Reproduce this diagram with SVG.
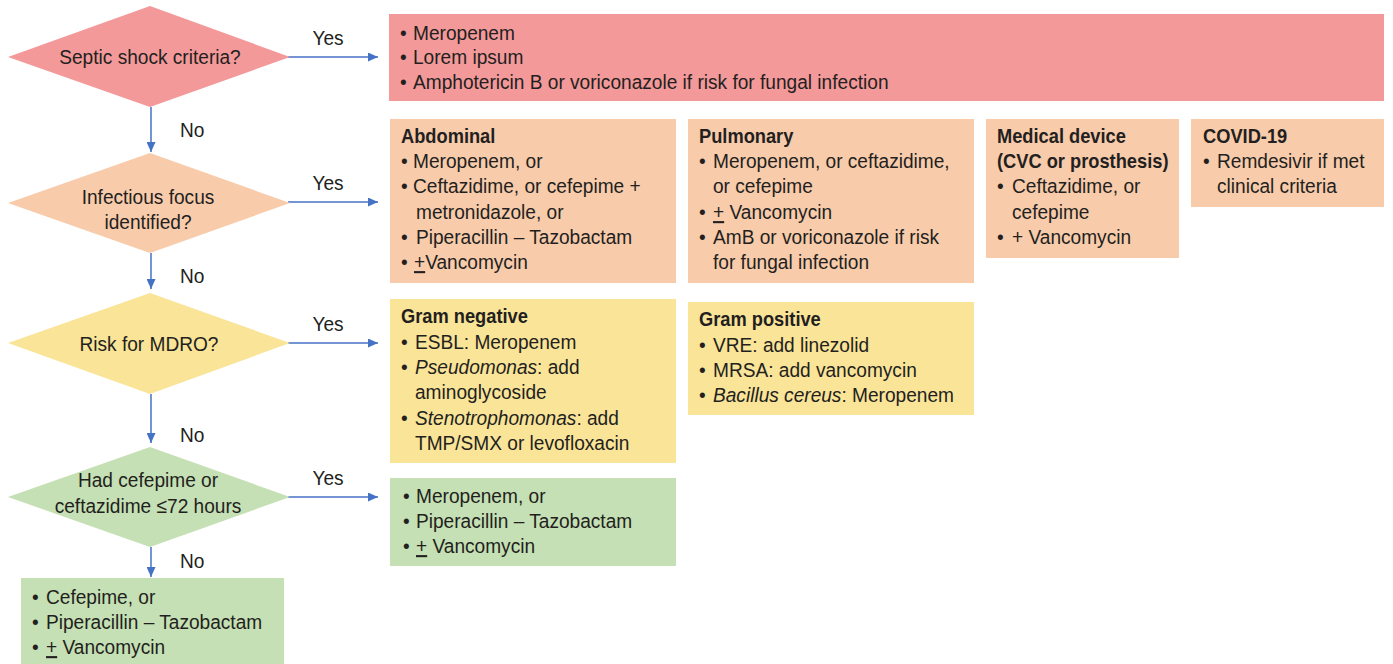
<svg xmlns="http://www.w3.org/2000/svg" width="1393" height="664" viewBox="0 0 1393 664">
<style>
text{font-family:"Liberation Sans",Arial,sans-serif;font-size:21px;fill:#231F20}
.b{font-weight:bold}
.c{text-anchor:middle}
.i{font-style:italic}
.u{text-decoration:underline}
.red{fill:#F4999A}
.org{fill:#F8CBAB}
.yel{fill:#FAE498}
.grn{fill:#C5E0B4}
.ln{stroke:#4472C4;stroke-width:1.5;fill:none}
</style>
<defs>
<marker id="ah" markerUnits="userSpaceOnUse" markerWidth="10" markerHeight="9" refX="10" refY="4.5" orient="auto">
<path d="M0,0 L10,4.5 L0,9 Z" fill="#4472C4"/>
</marker>
</defs>
<g id="connectors">
<line class="ln" x1="288" y1="57" x2="378" y2="57" marker-end="url(#ah)"/>
<line class="ln" x1="288" y1="202" x2="378" y2="202" marker-end="url(#ah)"/>
<line class="ln" x1="288" y1="343" x2="378" y2="343" marker-end="url(#ah)"/>
<line class="ln" x1="288" y1="497" x2="378" y2="497" marker-end="url(#ah)"/>
<line class="ln" x1="151" y1="107" x2="151" y2="152" marker-end="url(#ah)"/>
<line class="ln" x1="151" y1="253" x2="151" y2="289" marker-end="url(#ah)"/>
<line class="ln" x1="151" y1="394" x2="151" y2="443" marker-end="url(#ah)"/>
<line class="ln" x1="151" y1="547" x2="151" y2="577" marker-end="url(#ah)"/>
<text class="c" transform="translate(328,45) scale(0.91,1)">Yes</text>
<text class="c" transform="translate(328,190) scale(0.91,1)">Yes</text>
<text class="c" transform="translate(328,331) scale(0.91,1)">Yes</text>
<text class="c" transform="translate(328,485) scale(0.91,1)">Yes</text>
<text transform="translate(180,137) scale(0.91,1)">No</text>
<text transform="translate(180,283) scale(0.91,1)">No</text>
<text transform="translate(180,442) scale(0.91,1)">No</text>
<text transform="translate(180,568) scale(0.91,1)">No</text>
</g>
<g id="d1">
<polygon class="red" points="8,57 150,6 290,57 150,107"/>
<text class="c" transform="translate(150,64) scale(0.91,1)">Septic shock criteria?</text>
</g>
<g id="d2">
<polygon class="org" points="8,203 150,153 290,203 150,253"/>
<text class="c" transform="translate(148,204) scale(0.91,1)">Infectious focus</text>
<text class="c" transform="translate(148,229) scale(0.91,1)">identified?</text>
</g>
<g id="d3">
<polygon class="yel" points="8,343 150,293 290,343 150,394"/>
<text class="c" transform="translate(149,351) scale(0.91,1)">Risk for MDRO?</text>
</g>
<g id="d4">
<polygon class="grn" points="8,497 150,447 290,497 150,547"/>
<text class="c" transform="translate(148,487) scale(0.91,1)">Had cefepime or</text>
<text class="c" transform="translate(148,513) scale(0.91,1)">ceftazidime ≤72 hours</text>
</g>
<g id="septic">
<rect class="red" x="389" y="14" width="995" height="87"/>
<text transform="translate(400,40) scale(0.91,1)">•</text>
<text transform="translate(413,40) scale(0.91,1)">Meropenem</text>
<text transform="translate(400,64) scale(0.91,1)">•</text>
<text transform="translate(413,64) scale(0.91,1)">Lorem ipsum</text>
<text transform="translate(400,89) scale(0.91,1)">•</text>
<text transform="translate(413,89) scale(0.91,1)">Amphotericin B or voriconazole if risk for fungal infection</text>
</g>
<g id="abdominal">
<rect class="org" x="390" y="119" width="286" height="164"/>
<text class="b" transform="translate(401,143) scale(0.87,1)">Abdominal</text>
<text transform="translate(401,168) scale(0.91,1)">•</text>
<text transform="translate(413,168) scale(0.91,1)">Meropenem, or</text>
<text transform="translate(401,193) scale(0.91,1)">•</text>
<text transform="translate(413,193) scale(0.91,1)">Ceftazidime, or cefepime +</text>
<text transform="translate(416,219) scale(0.91,1)">metronidazole, or</text>
<text transform="translate(401,244) scale(0.91,1)">•</text>
<text transform="translate(416,244) scale(0.91,1)">Piperacillin – Tazobactam</text>
<text transform="translate(401,269) scale(0.91,1)">•</text>
<text transform="translate(414,269) scale(0.91,1)"><tspan class="u">+</tspan>Vancomycin</text>
</g>
<g id="pulmonary">
<rect class="org" x="688" y="119" width="286" height="164"/>
<text class="b" transform="translate(699,143) scale(0.87,1)">Pulmonary</text>
<text transform="translate(699,168) scale(0.91,1)">•</text>
<text transform="translate(713,168) scale(0.91,1)">Meropenem, or ceftazidime,</text>
<text transform="translate(713,193) scale(0.91,1)">or cefepime</text>
<text transform="translate(699,219) scale(0.91,1)">•</text>
<text transform="translate(713,219) scale(0.91,1)"><tspan class="u">+</tspan> Vancomycin</text>
<text transform="translate(699,244) scale(0.91,1)">•</text>
<text transform="translate(713,244) scale(0.91,1)">AmB or voriconazole if risk</text>
<text transform="translate(713,269) scale(0.91,1)">for fungal infection</text>
</g>
<g id="device">
<rect class="org" x="986" y="119" width="193" height="139"/>
<text class="b" transform="translate(997,143) scale(0.87,1)">Medical device</text>
<text class="b" transform="translate(997,168) scale(0.87,1)">(CVC or prosthesis)</text>
<text transform="translate(997,193) scale(0.91,1)">•</text>
<text transform="translate(1012,193) scale(0.91,1)">Ceftazidime, or</text>
<text transform="translate(1012,219) scale(0.91,1)">cefepime</text>
<text transform="translate(997,244) scale(0.91,1)">•</text>
<text transform="translate(1012,244) scale(0.91,1)">+ Vancomycin</text>
</g>
<g id="covid">
<rect class="org" x="1191" y="119" width="193" height="88"/>
<text class="b" transform="translate(1203,143) scale(0.87,1)">COVID-19</text>
<text transform="translate(1203,168) scale(0.91,1)">•</text>
<text transform="translate(1217,168) scale(0.91,1)">Remdesivir if met</text>
<text transform="translate(1217,193) scale(0.91,1)">clinical criteria</text>
</g>
<g id="gramneg">
<rect class="yel" x="390" y="299" width="286" height="164"/>
<text class="b" transform="translate(401,323) scale(0.87,1)">Gram negative</text>
<text transform="translate(401,349) scale(0.91,1)">•</text>
<text transform="translate(415,349) scale(0.91,1)">ESBL: Meropenem</text>
<text transform="translate(401,374) scale(0.91,1)">•</text>
<text transform="translate(415,374) scale(0.91,1)"><tspan class="i">Pseudomonas</tspan>: add</text>
<text transform="translate(415,399) scale(0.91,1)">aminoglycoside</text>
<text transform="translate(401,425) scale(0.91,1)">•</text>
<text transform="translate(415,425) scale(0.91,1)"><tspan class="i">Stenotrophomonas</tspan>: add</text>
<text transform="translate(415,450) scale(0.91,1)">TMP/SMX or levofloxacin</text>
</g>
<g id="grampos">
<rect class="yel" x="688" y="302" width="286" height="113"/>
<text class="b" transform="translate(699,326) scale(0.87,1)">Gram positive</text>
<text transform="translate(699,352) scale(0.91,1)">•</text>
<text transform="translate(713,352) scale(0.91,1)">VRE: add linezolid</text>
<text transform="translate(699,377) scale(0.91,1)">•</text>
<text transform="translate(713,377) scale(0.91,1)">MRSA: add vancomycin</text>
<text transform="translate(699,402) scale(0.91,1)">•</text>
<text transform="translate(713,402) scale(0.91,1)"><tspan class="i">Bacillus cereus</tspan>: Meropenem</text>
</g>
<g id="hadcef">
<rect class="grn" x="390" y="478" width="286" height="88"/>
<text transform="translate(403,503) scale(0.91,1)">•</text>
<text transform="translate(416,503) scale(0.91,1)">Meropenem, or</text>
<text transform="translate(403,528) scale(0.91,1)">•</text>
<text transform="translate(416,528) scale(0.91,1)">Piperacillin – Tazobactam</text>
<text transform="translate(403,553) scale(0.91,1)">•</text>
<text transform="translate(416,553) scale(0.91,1)"><tspan class="u">+</tspan> Vancomycin</text>
</g>
<g id="default">
<rect class="grn" x="21" y="578" width="263" height="86"/>
<text transform="translate(32,604) scale(0.91,1)">•</text>
<text transform="translate(46,604) scale(0.91,1)">Cefepime, or</text>
<text transform="translate(32,629) scale(0.91,1)">•</text>
<text transform="translate(46,629) scale(0.91,1)">Piperacillin – Tazobactam</text>
<text transform="translate(32,654) scale(0.91,1)">•</text>
<text transform="translate(46,654) scale(0.91,1)"><tspan class="u">+</tspan> Vancomycin</text>
</g>
</svg>
